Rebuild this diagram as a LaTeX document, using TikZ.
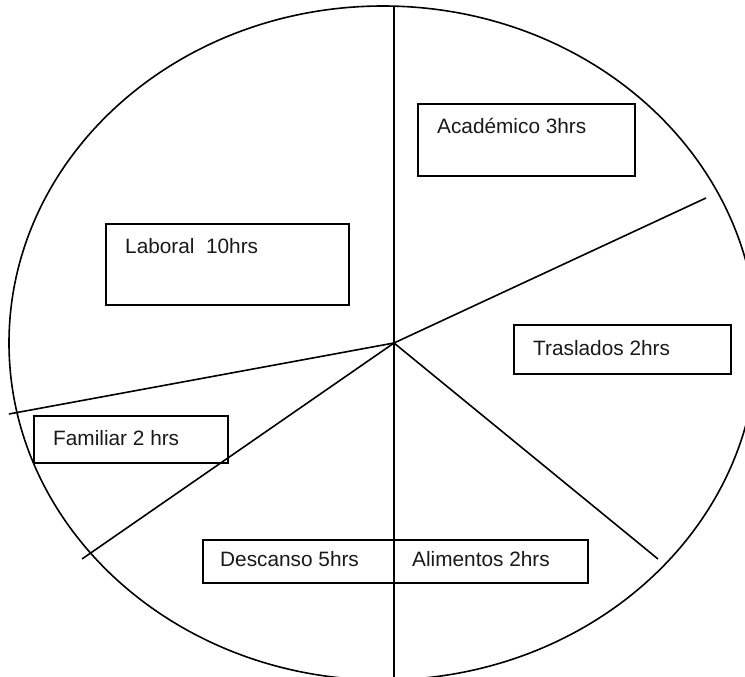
\documentclass[tikz,border=0pt]{standalone}
\usepackage{fontspec}
\setmainfont{Liberation Sans}
\begin{document}
\begin{tikzpicture}[x=1pt,y=-1pt,
  spoke/.style={line width=1.6pt,black},
  box/.style={draw=black,line width=2pt,fill=none,inner sep=0pt,anchor=north west},
  lbl/.style={inner sep=0pt,anchor=base west,font=\fontsize{20.8}{24}\selectfont,text=black!90}]
\useasboundingbox (0,0) rectangle (745,677);
\begin{scope}
\clip (0,0) rectangle (745,677);
\draw[line width=1.6pt] (383,343) ellipse [x radius=374, y radius=337];
\end{scope}
% boxes
\node[box,minimum width=217,minimum height=72] (acad) at (417,103) {};
\node[box,minimum width=243,minimum height=81] (lab) at (105,223) {};
\node[box,minimum width=217,minimum height=49] (tras) at (513,324) {};
\node[box,minimum width=194,minimum height=47] (fam) at (33,415) {};
\node[box,minimum width=385,minimum height=43] (desc) at (202,539) {};
% labels
\node[lbl] (acadt) at (437,133) {Académico 3hrs};
\node[lbl] (labt) at (125,253) {Laboral\ \ 10hrs};
\node[lbl] (trast) at (533,355) {Traslados 2hrs};
\node[lbl] (famt) at (53,445) {Familiar 2 hrs};
\node[lbl] (desct) at (220,566) {Descanso 5hrs};
\node[lbl] (alit) at (412,566) {Alimentos 2hrs};
% spokes
\coordinate (c) at (394,343);
\coordinate (top) at (394,6);
\coordinate (bot) at (394,677);
\coordinate (ur) at (706,198);
\coordinate (l) at (9,414);
\coordinate (ll) at (82,559);
\coordinate (lr) at (658,559);
\draw[spoke] (top) -- (bot);
\draw[spoke] (c) -- (ur);
\draw[spoke] (c) -- (l);
\draw[spoke] (c) -- (ll);
\draw[spoke] (c) -- (lr);
\end{tikzpicture}
\end{document}
